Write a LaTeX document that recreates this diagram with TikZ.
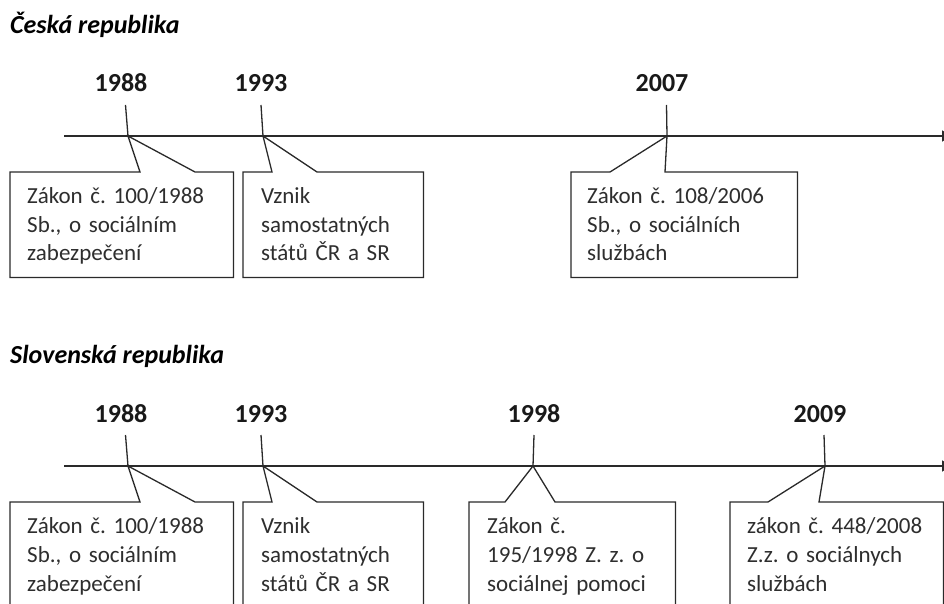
\documentclass[tikz,border=0pt]{standalone}
\usepackage{fontspec}
\setmainfont{Carlito}
\frenchspacing
\usetikzlibrary{arrows.meta,calc}
\definecolor{ink}{HTML}{2E2E2E}
\definecolor{lineclr}{HTML}{2A2A2A}
\tikzset{
  ttl/.style={anchor=base west,inner sep=0pt,font=\fontsize{26}{30}\selectfont\bfseries\itshape,text=black},
  yr/.style={anchor=base,inner sep=0pt,font=\fontsize{26}{30}\selectfont\bfseries,text=black!90},
  frame/.style={inner sep=0pt,anchor=north west},
  txt/.style={anchor=base west,inner sep=0pt,text width=210pt,align=left,font=\fontsize{23}{29}\selectfont\frenchspacing,text=ink},
  ln/.style={draw=lineclr,line width=1.3pt,line join=miter},
  axis/.style={draw=lineclr,line width=1.5pt,-{Triangle[length=10pt,width=11pt]}},
}
\begin{document}
\begin{tikzpicture}[x=1pt,y=-1pt]
\useasboundingbox (0,0) rectangle (944,604);
\fill[white] (0,0) rectangle (944,604);
\clip (0,0) rectangle (944,604);

% ---------- Czech Republic ----------
\node[ttl] (czt) at (10,34) {Česká republika};
\coordinate (czs) at (64,136);
\coordinate (cze) at (952,136);
\draw[axis] (czs) -- (cze);

\node[yr] (czy1) at (121,92) {1988};
\node[yr] (czy2) at (261,92) {1993};
\node[yr] (czy3) at (662,92) {2007};
\coordinate (cza1) at (128,136);
\coordinate (cza2) at (263,136);
\coordinate (cza3) at (667,136);
\draw[ln] (125.5,105) -- (cza1);
\draw[ln] (261,105) -- (cza2);
\draw[ln] (666.5,105) -- (cza3);

\node[frame,minimum width=223pt,minimum height=105pt] (czb1) at (10,172) {};
\node[frame,minimum width=180pt,minimum height=105pt] (czb2) at (243,172) {};
\node[frame,minimum width=226pt,minimum height=105pt] (czb3) at (571,172) {};
\draw[ln,fill=white] (czb1.north west) -- ($(czb1.north west)+(130,0)$) -- (cza1) -- ($(czb1.north west)+(185,0)$) -- (czb1.north east) -- (czb1.south east) -- (czb1.south west) -- cycle;
\draw[ln,fill=white] (czb2.north west) -- ($(czb2.north west)+(29,0)$) -- (cza2) -- ($(czb2.north west)+(74,0)$) -- (czb2.north east) -- (czb2.south east) -- (czb2.south west) -- cycle;
\draw[ln,fill=white] (czb3.north west) -- ($(czb3.north west)+(39,0)$) -- (cza3) -- ($(czb3.north west)+(94,0)$) -- (czb3.north east) -- (czb3.south east) -- (czb3.south west) -- cycle;
\node[txt] (czx1) at (27,203) {Zákon č. 100/1988\\Sb., o sociálním\\zabezpečení};
\node[txt] (czx2) at (261,203) {Vznik\\samostatných\\států ČR a SR};
\node[txt] (czx3) at (587,203) {Zákon č. 108/2006\\Sb., o sociálních\\službách};

% ---------- Slovak Republic ----------
\node[ttl] (skt) at (10,363) {Slovenská republika};
\coordinate (sks) at (64,466);
\coordinate (ske) at (952,466);
\draw[axis] (sks) -- (ske);

\node[yr] (sky1) at (121,422) {1988};
\node[yr] (sky2) at (261,422) {1993};
\node[yr] (sky3) at (534,422) {1998};
\node[yr] (sky4) at (820,422) {2009};
\coordinate (ska1) at (128,466);
\coordinate (ska2) at (263,466);
\coordinate (ska3) at (533,466);
\coordinate (ska4) at (825,466);
\draw[ln] (125.5,435) -- (ska1);
\draw[ln] (261,435) -- (ska2);
\draw[ln] (534,435) -- (ska3);
\draw[ln] (824,435) -- (ska4);

\node[frame,minimum width=223pt,minimum height=105pt] (skb1) at (10,502) {};
\node[frame,minimum width=180pt,minimum height=105pt] (skb2) at (243,502) {};
\node[frame,minimum width=206pt,minimum height=105pt] (skb3) at (469,502) {};
\node[frame,minimum width=213pt,minimum height=105pt] (skb4) at (730,502) {};
\draw[ln,fill=white] (skb1.north west) -- ($(skb1.north west)+(130,0)$) -- (ska1) -- ($(skb1.north west)+(185,0)$) -- (skb1.north east) -- (skb1.south east) -- (skb1.south west) -- cycle;
\draw[ln,fill=white] (skb2.north west) -- ($(skb2.north west)+(29,0)$) -- (ska2) -- ($(skb2.north west)+(74,0)$) -- (skb2.north east) -- (skb2.south east) -- (skb2.south west) -- cycle;
\draw[ln,fill=white] (skb3.north west) -- ($(skb3.north west)+(36,0)$) -- (ska3) -- ($(skb3.north west)+(86,0)$) -- (skb3.north east) -- (skb3.south east) -- (skb3.south west) -- cycle;
\draw[ln,fill=white] (skb4.north west) -- ($(skb4.north west)+(38,0)$) -- (ska4) -- ($(skb4.north west)+(89,0)$) -- (skb4.north east) -- (skb4.south east) -- (skb4.south west) -- cycle;
\node[txt] (skx1) at (27,533) {Zákon č. 100/1988\\Sb., o sociálním\\zabezpečení};
\node[txt] (skx2) at (261,533) {Vznik\\samostatných\\států ČR a SR};
\node[txt] (skx3) at (487,533) {Zákon č.\\195/1998 Z. z. o\\sociálnej pomoci};
\node[txt] (skx4) at (747,533) {zákon č. 448/2008\\Z.z. o sociálnych\\službách};
\end{tikzpicture}
\end{document}
